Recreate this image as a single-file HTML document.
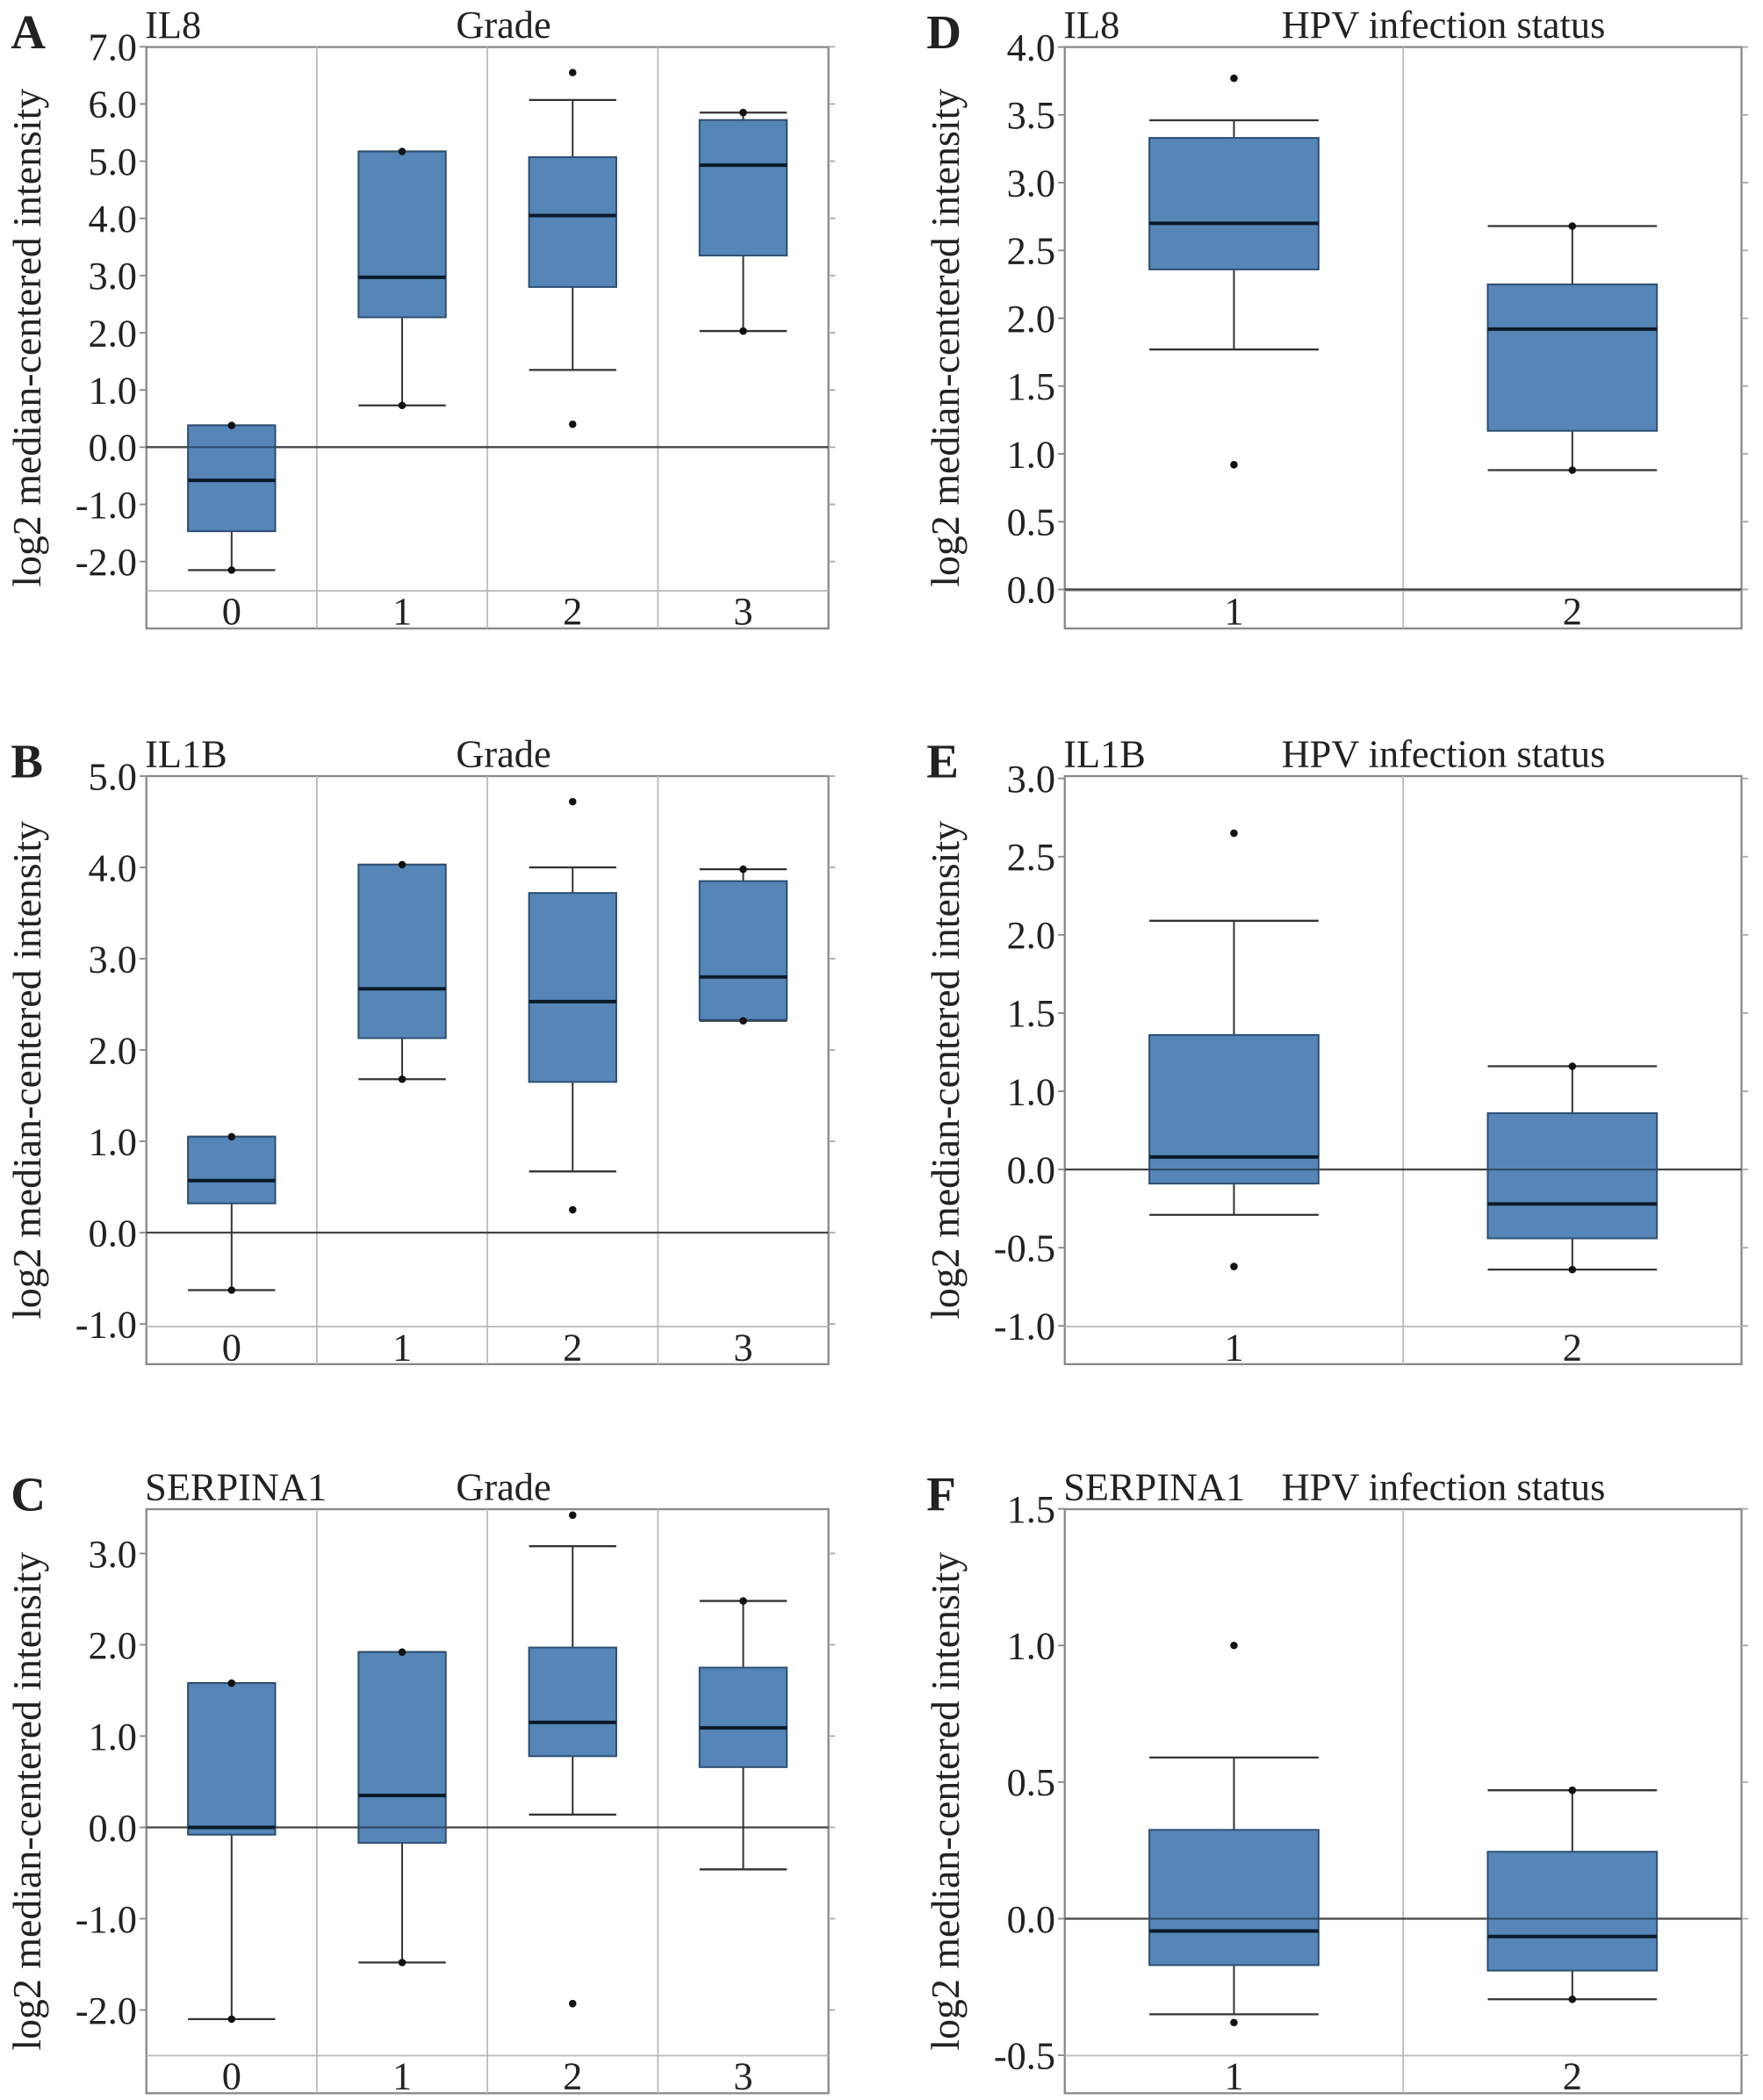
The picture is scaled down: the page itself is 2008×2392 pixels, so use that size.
<!DOCTYPE html>
<html><head><meta charset="utf-8">
<style>
html,body{margin:0;padding:0;background:#fff;}
svg{display:block;}
text{font-family:"Liberation Serif",serif;fill:#222;}
</style></head>
<body>
<svg id="fig" width="2008" height="2392" viewBox="0 0 1313 1564" xmlns="http://www.w3.org/2000/svg"></svg>
<script>
// ---- Panel data (top-level arrays) ----
const gradeCats = ["0","1","2","3"];
const hpvCats = ["1","2"];

// Panel A: IL8 by grade
const aLow  = [-2.15, 0.73, 1.35, 2.03];
const aQ1   = [-1.47, 2.27, 2.80, 3.35];
const aMed  = [-0.58, 2.97, 4.05, 4.93];
const aQ3   = [0.38, 5.17, 5.07, 5.72];
const aHigh = [0.38, 5.17, 6.07, 5.85];
const aDots = [[0.38,-2.15],[5.17,0.73],[6.55,0.40],[5.85,2.03]];
const aTickVals = [7,6,5,4,3,2,1,0,-1,-2];
const aTickLabels = ["7.0","6.0","5.0","4.0","3.0","2.0","1.0","0.0","-1.0","-2.0"];

// Panel B: IL1B by grade
const bLow  = [-0.63, 1.68, 0.67, 2.32];
const bQ1   = [0.32, 2.13, 1.65, 2.33];
const bMed  = [0.57, 2.67, 2.53, 2.80];
const bQ3   = [1.05, 4.03, 3.72, 3.85];
const bHigh = [1.05, 4.03, 4.00, 3.98];
const bDots = [[1.05,-0.63],[4.03,1.68],[4.72,0.25],[3.98,2.32]];
const bTickVals = [5,4,3,2,1,0,-1];
const bTickLabels = ["5.0","4.0","3.0","2.0","1.0","0.0","-1.0"];

// Panel C: SERPINA1 by grade
const cLow  = [-2.10, -1.48, 0.14, -0.46];
const cQ1   = [-0.08, -0.17, 0.78, 0.66];
const cMed  = [0.00, 0.35, 1.15, 1.09];
const cQ3   = [1.58, 1.92, 1.97, 1.75];
const cHigh = [1.58, 1.92, 3.08, 2.48];
const cDots = [[1.58,-2.10],[1.92,-1.48],[3.42,-1.93],[2.48]];
const cTickVals = [3,2,1,0,-1,-2];
const cTickLabels = ["3.0","2.0","1.0","0.0","-1.0","-2.0"];

// Panel D: IL8 by HPV
const dLow  = [1.77, 0.88];
const dQ1   = [2.36, 1.17];
const dMed  = [2.70, 1.92];
const dQ3   = [3.33, 2.25];
const dHigh = [3.46, 2.68];
const dDots = [[3.77,0.92],[2.68,0.88]];
const dTickVals = [4,3.5,3,2.5,2,1.5,1,0.5,0];
const dTickLabels = ["4.0","3.5","3.0","2.5","2.0","1.5","1.0","0.5","0.0"];

// Panel E: IL1B by HPV
const eLow  = [-0.29, -0.64];
const eQ1   = [-0.09, -0.44];
const eMed  = [0.08, -0.22];
const eQ3   = [0.86, 0.36];
const eHigh = [1.59, 0.66];
const eDots = [[2.15,-0.62],[0.66,-0.64]];
const eTickVals = [2.5,2,1.5,1,0.5,0,-0.5,-1];
const eTickLabels = ["3.0","2.5","2.0","1.5","1.0","0.0","-0.5","-1.0"];

// Panel F: SERPINA1 by HPV
const fLow  = [-0.35, -0.295];
const fQ1   = [-0.17, -0.19];
const fMed  = [-0.045, -0.065];
const fQ3   = [0.325, 0.245];
const fHigh = [0.59, 0.47];
const fDots = [[1.0,-0.38],[0.47,-0.295]];
const fTickVals = [1.5,1,0.5,0,-0.5];
const fTickLabels = ["1.5","1.0","0.5","0.0","-0.5"];

const NS = "http://www.w3.org/2000/svg";
const svg = document.getElementById("fig");
function mk(tag, attrs, parent){
  const el = document.createElementNS(NS, tag);
  for (const k in attrs) el.setAttribute(k, attrs[k]);
  (parent||svg).appendChild(el);
  return el;
}

function panel(cfg){
  const g = mk("g", {});
  
  
  const {x0,x1,top,bottom,zeroY,unit,cats} = cfg;
  const y = v => zeroY - unit*v;
  const n = cats.length, cw = (x1-x0)/n;
  const cx = i => x0 + cw*(i+0.5);
  const bw = cfg.boxW;
  const fr = mk("rect",{x:x0,y:top,width:x1-x0,height:bottom+28-top,fill:"none",stroke:"#888","stroke-width":1.5},g);
  
  
  mk("line",{x1:x0,x2:x1,y1:bottom,y2:bottom,stroke:"#bbb","stroke-width":1.2},g);
  for (let i=1;i<n;i++){
    mk("line",{x1:x0+cw*i,x2:x0+cw*i,y1:top,y2:bottom+28,stroke:"#bbb","stroke-width":1.2},g);
  }
  cfg.tv.forEach((v,i)=>{
    const yy = y(v);
    mk("line",{x1:x0-5,x2:x0,y1:yy,y2:yy,stroke:"#888","stroke-width":1.2},g);
    mk("line",{x1:x1,x2:x1+5,y1:yy,y2:yy,stroke:"#aaa","stroke-width":1.2},g);
    const t = mk("text",{x:x0-7,y:yy+10,"text-anchor":"end","font-size":29},g);
    t.textContent = cfg.tl[i];
    
    
  });
  if (zeroY>top && zeroY<bottom) mk("line",{x1:x0,x2:x1,y1:zeroY,y2:zeroY,stroke:"#444","stroke-width":1.5},g);
  cats.forEach((c,i)=>{
    const bx = mk("g",{},g);
    
    
    const X = cx(i);
    mk("line",{x1:X,x2:X,y1:y(cfg.high[i]),y2:y(cfg.q3[i]),stroke:"#333","stroke-width":1.3},bx);
    mk("line",{x1:X,x2:X,y1:y(cfg.q1[i]),y2:y(cfg.low[i]),stroke:"#333","stroke-width":1.3},bx);
    mk("line",{x1:X-bw/2,x2:X+bw/2,y1:y(cfg.high[i]),y2:y(cfg.high[i]),stroke:"#333","stroke-width":1.5},bx);
    mk("line",{x1:X-bw/2,x2:X+bw/2,y1:y(cfg.low[i]),y2:y(cfg.low[i]),stroke:"#333","stroke-width":1.5},bx);
    mk("rect",{x:X-bw/2,y:y(cfg.q3[i]),width:bw,height:y(cfg.q1[i])-y(cfg.q3[i]),fill:"#5686b8",stroke:"#2d4f73","stroke-width":1.3},bx);
    if (zeroY>y(cfg.q3[i]) && zeroY<y(cfg.q1[i])) mk("line",{x1:X-bw/2,x2:X+bw/2,y1:zeroY,y2:zeroY,stroke:"#2f4660","stroke-width":1.3},bx);
    mk("line",{x1:X-bw/2,x2:X+bw/2,y1:y(cfg.med[i]),y2:y(cfg.med[i]),stroke:"#0b1a28","stroke-width":2.6},bx);
    (cfg.dots[i]||[]).forEach(d=>{
      const p = mk("circle",{cx:X,cy:y(d),r:2.8,fill:"#111"},bx);
      
      
    });
    const t = mk("text",{x:X,y:bottom+25,"text-anchor":"middle","font-size":29},g);
    t.textContent = c;
    
    
  });
  const L = mk("text",{x:cfg.letterX,y:top+1,"font-size":36,"font-weight":"bold"},g);
  L.textContent = cfg.letter;
  
  
  const G = mk("text",{x:x0-1,y:top-7,"font-size":29},g);
  G.textContent = cfg.gene;
  
  
  const T = mk("text",{x:cfg.titleX,y:top-7,"text-anchor":"middle","font-size":29},g);
  T.textContent = cfg.title;
  
  
  const my = (top+bottom+28)/2;
  const Y = mk("text",{x:0,y:0,"text-anchor":"middle","font-size":30,transform:`translate(${x0-79},${my}) rotate(-90)`},g);
  Y.textContent = "log2 median-centered intensity";
  
  
}

const Lx0=109, Lx1=617, Rx0=793, Rx1=1297;
panel({letter:"A",letterX:8,gene:"IL8",title:"Grade",titleX:375,x0:Lx0,x1:Lx1,top:35,bottom:440,zeroY:333,unit:42.6,cats:gradeCats,boxW:65,
  low:aLow,q1:aQ1,med:aMed,q3:aQ3,high:aHigh,dots:aDots,tv:aTickVals,tl:aTickLabels});
panel({letter:"B",letterX:8,gene:"IL1B",title:"Grade",titleX:375,x0:Lx0,x1:Lx1,top:578,bottom:988,zeroY:918,unit:68,cats:gradeCats,boxW:65,
  low:bLow,q1:bQ1,med:bMed,q3:bQ3,high:bHigh,dots:bDots,tv:bTickVals,tl:bTickLabels});
panel({letter:"C",letterX:8,gene:"SERPINA1",title:"Grade",titleX:375,x0:Lx0,x1:Lx1,top:1124,bottom:1531,zeroY:1361,unit:68,cats:gradeCats,boxW:65,
  low:cLow,q1:cQ1,med:cMed,q3:cQ3,high:cHigh,dots:cDots,tv:cTickVals,tl:cTickLabels});
panel({letter:"D",letterX:690,gene:"IL8",title:"HPV infection status",titleX:1075,x0:Rx0,x1:Rx1,top:35,bottom:440,zeroY:439,unit:101,cats:hpvCats,boxW:126,
  low:dLow,q1:dQ1,med:dMed,q3:dQ3,high:dHigh,dots:dDots,tv:dTickVals,tl:dTickLabels});
panel({letter:"E",letterX:690,gene:"IL1B",title:"HPV infection status",titleX:1075,x0:Rx0,x1:Rx1,top:578,bottom:988,zeroY:871,unit:116.5,cats:hpvCats,boxW:126,
  low:eLow,q1:eQ1,med:eMed,q3:eQ3,high:eHigh,dots:eDots,tv:eTickVals,tl:eTickLabels});
panel({letter:"F",letterX:690,gene:"SERPINA1",title:"HPV infection status",titleX:1075,x0:Rx0,x1:Rx1,top:1124,bottom:1531,zeroY:1429,unit:203.5,cats:hpvCats,boxW:126,
  low:fLow,q1:fQ1,med:fMed,q3:fQ3,high:fHigh,dots:fDots,tv:fTickVals,tl:fTickLabels});
</script>
</body></html>
